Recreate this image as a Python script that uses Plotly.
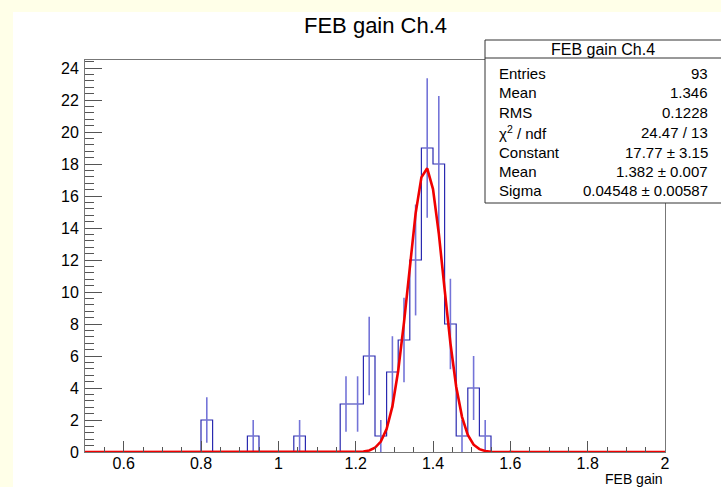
import numpy as np
import plotly.graph_objects as go

# ---------------- data ----------------
title_text = "FEB gain Ch.4"
x_axis_title = "FEB gain"
x_lo, x_hi, n_bins = 0.5, 2.0, 50
filled_bin_low_edges = [0.80, 0.92, 1.04, 1.16, 1.19, 1.22, 1.25, 1.28, 1.31,
                        1.34, 1.37, 1.40, 1.43, 1.46, 1.49, 1.52]
filled_counts = [2, 1, 1, 3, 3, 6, 1, 5, 7, 12, 19, 18, 8, 1, 4, 1]

# Gaussian fit parameters (from stat box)
fit_constant = 17.77
fit_mean = 1.382
fit_sigma = 0.04548

stat_labels = ["Entries", "Mean", "RMS", "\u03c7<sup>2</sup> / ndf", "Constant", "Mean", "Sigma"]
stat_values = ["93", "1.346", "0.1228", "24.47 / 13", "17.77 \u00b1 3.15",
               "1.382 \u00b1 0.007", "0.04548 \u00b1 0.00587"]

y_max = 24.5

# ---------------- layout geometry ----------------
W, H = 721, 487
L, R, T, B = 85, 665, 60, 452
pw, ph = R - L, B - T


def px(x):
    return (x - L) / pw


def py(y):
    return 1 - (y - T) / ph


bw = (x_hi - x_lo) / n_bins
edges = np.array([x_lo + i * bw for i in range(n_bins + 1)])
counts = np.zeros(n_bins)
for e, c in zip(filled_bin_low_edges, filled_counts):
    counts[int(round((e - x_lo) / bw))] = c
centers = edges[:-1] + bw / 2

fig = go.Figure()

# histogram outline
fig.add_trace(go.Scatter(
    x=list(edges), y=list(counts) + [counts[-1]],
    mode="lines", line=dict(shape="hv", color="#2a2ab0", width=1.2),
    hoverinfo="skip", showlegend=False))

# error bars
mask = counts > 0
fig.add_trace(go.Scatter(
    x=centers[mask], y=counts[mask], mode="markers",
    marker=dict(size=1, color="rgba(0,0,0,0)"),
    error_y=dict(type="data", array=np.sqrt(counts[mask]), width=0,
                 color="#7474d8", thickness=1.6),
    hoverinfo="skip", showlegend=False))

# fit curve
xf = np.linspace(x_lo, x_hi, 101)
yf = fit_constant * np.exp(-0.5 * ((xf - fit_mean) / fit_sigma) ** 2)
fig.add_trace(go.Scatter(
    x=xf, y=yf, mode="lines", line=dict(color="#f00000", width=2.6),
    hoverinfo="skip", showlegend=False))

font_family = "Liberation Sans, Arial, sans-serif"

fig.update_layout(
    width=W, height=H,
    margin=dict(l=L, r=W - R, t=T, b=H - B),
    paper_bgcolor="#ffffe8",
    plot_bgcolor="white",
    font=dict(family=font_family, color="black", size=16),
    xaxis=dict(range=[x_lo, x_hi], showgrid=False, zeroline=False,
               showline=True, linecolor="#777", linewidth=1, mirror=True,
               ticks="inside", ticklen=11, tickcolor="#555", tickwidth=1,
               tick0=0, dtick=0.2,
               minor=dict(ticks="inside", dtick=0.05, ticklen=5.5,
                          tickcolor="#555", tickwidth=1),
               tickfont=dict(size=16), ticklabelstandoff=-3),
    yaxis=dict(range=[0, y_max], showgrid=False, zeroline=False,
               showline=True, linecolor="#777", linewidth=1, mirror=True,
               ticks="inside", ticklen=17, tickcolor="#555", tickwidth=1,
               tick0=0, dtick=2,
               minor=dict(ticks="inside", dtick=0.4, ticklen=8.5,
                          tickcolor="#555", tickwidth=1),
               tickfont=dict(size=16), ticklabelstandoff=2),
)

shapes = []
# white canvas area
shapes.append(dict(type="rect", xref="paper", yref="paper", layer="below",
                   x0=px(13), x1=px(W + 5), y0=py(12), y1=py(H + 5),
                   fillcolor="white", line=dict(width=0)))
# stat box
bx0, bx1, by0, by1 = 485, 722, 40, 203
shapes.append(dict(type="rect", xref="paper", yref="paper", layer="above",
                   x0=px(bx0), x1=px(bx1), y0=py(by1), y1=py(by0),
                   fillcolor="white", line=dict(color="#333", width=1)))
shapes.append(dict(type="line", xref="paper", yref="paper", layer="above",
                   x0=px(bx0), x1=px(bx1), y0=py(58), y1=py(58),
                   line=dict(color="#333", width=1)))
fig.update_layout(shapes=shapes)

annotations = []
annotations.append(dict(text=title_text, xref="paper", yref="paper",
                        x=px(375), y=py(25), xanchor="center", yanchor="middle",
                        showarrow=False, font=dict(size=22)))
annotations.append(dict(text=x_axis_title, xref="paper", yref="paper",
                        x=px(664), y=py(478.5), xanchor="right", yanchor="middle",
                        showarrow=False, font=dict(size=14), borderpad=0))
annotations.append(dict(text=title_text, xref="paper", yref="paper",
                        x=px(603), y=py(49.5), xanchor="center", yanchor="middle",
                        showarrow=False, font=dict(size=16)))
row_y = [73, 92.5, 112, 132, 152, 171.5, 191]
for lab, val, yy in zip(stat_labels, stat_values, row_y):
    annotations.append(dict(text=lab, xref="paper", yref="paper",
                            x=px(497), y=py(yy), xanchor="left", yanchor="middle",
                            showarrow=False, font=dict(size=15)))
    annotations.append(dict(text=val, xref="paper", yref="paper",
                            x=px(710), y=py(yy), xanchor="right", yanchor="middle",
                            showarrow=False, font=dict(size=15)))
fig.update_layout(annotations=annotations)

fig.write_html("out.html")
